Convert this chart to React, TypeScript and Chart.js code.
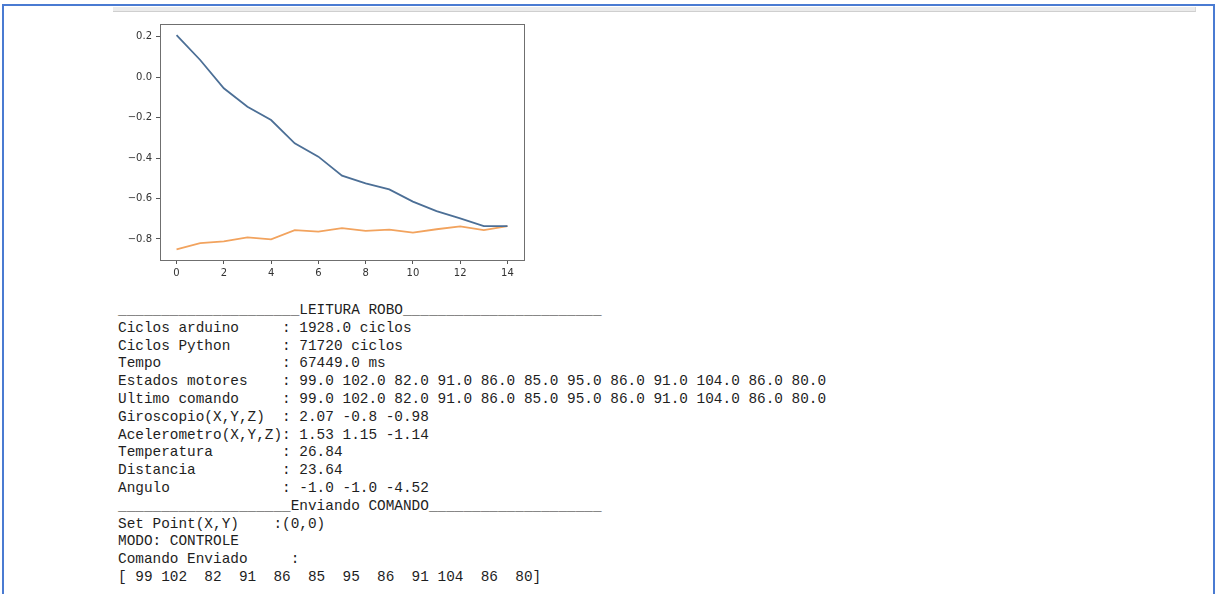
import React, { useEffect, useRef } from "react";
import { Chart, registerables } from "chart.js";

Chart.register(...registerables);

// ---- chart data ----
const xValues = [0, 1, 2, 3, 4, 5, 6, 7, 8, 9, 10, 11, 12, 13, 14];
const blueSeries = [0.208, 0.085, -0.055, -0.146, -0.212, -0.327, -0.393, -0.487, -0.525, -0.555, -0.615, -0.662, -0.698, -0.736, -0.736];
const orangeSeries = [-0.851, -0.821, -0.812, -0.792, -0.802, -0.756, -0.764, -0.746, -0.76, -0.754, -0.769, -0.752, -0.738, -0.756, -0.736];
const yRange = [-0.904, 0.263];
const xRange = [-0.7, 14.7];

// ---- text output ----
const outputLines = [
  "_____________________LEITURA ROBO_______________________",
  "Ciclos arduino     : 1928.0 ciclos",
  "Ciclos Python      : 71720 ciclos",
  "Tempo              : 67449.0 ms",
  "Estados motores    : 99.0 102.0 82.0 91.0 86.0 85.0 95.0 86.0 91.0 104.0 86.0 80.0",
  "Ultimo comando     : 99.0 102.0 82.0 91.0 86.0 85.0 95.0 86.0 91.0 104.0 86.0 80.0",
  "Giroscopio(X,Y,Z)  : 2.07 -0.8 -0.98",
  "Acelerometro(X,Y,Z): 1.53 1.15 -1.14",
  "Temperatura        : 26.84",
  "Distancia          : 23.64",
  "Angulo             : -1.0 -1.0 -4.52",
  "____________________Enviando COMANDO____________________",
  "Set Point(X,Y)    :(0,0)",
  "MODO: CONTROLE",
  "Comando Enviado     :",
  "[ 99 102  82  91  86  85  95  86  91 104  86  80]",
];

const framePlugin = {
  id: "frameBox",
  afterDraw(chart: any) {
    const { ctx, chartArea } = chart;
    ctx.save();
    ctx.strokeStyle = "#6f6f6f";
    ctx.lineWidth = 1;
    ctx.strokeRect(
      Math.round(chartArea.left) + 0.5,
      Math.round(chartArea.top) + 0.5,
      Math.round(chartArea.right - chartArea.left),
      Math.round(chartArea.bottom - chartArea.top)
    );
    ctx.restore();
  },
};

function fmtY(v: number) {
  const r = Math.round(v * 10) / 10;
  if (r === 0) return "0.0";
  return (r < 0 ? "\u2212" : "") + Math.abs(r).toFixed(1);
}

function LineChart() {
  const ref = useRef<HTMLCanvasElement | null>(null);
  useEffect(() => {
    if (!ref.current) return;
    const chart = new Chart(ref.current, {
      type: "line",
      data: {
        datasets: [
          {
            data: xValues.map((x, i) => ({ x, y: blueSeries[i] })),
            borderColor: "#4c6f96",
            borderWidth: 1.8,
            pointRadius: 0,
            tension: 0,
          },
          {
            data: xValues.map((x, i) => ({ x, y: orangeSeries[i] })),
            borderColor: "#f2a35e",
            borderWidth: 1.8,
            pointRadius: 0,
            tension: 0,
          },
        ],
      },
      options: {
        animation: false,
        responsive: false,
        devicePixelRatio: 1,
        layout: { padding: { top: 10, right: 16, left: 0, bottom: 0 } },
        plugins: { legend: { display: false }, tooltip: { enabled: false } },
        scales: {
          x: {
            type: "linear",
            min: xRange[0],
            max: xRange[1],
            afterFit: (s: any) => { s.height = 34; },
            border: { display: false },
            grid: { drawOnChartArea: false, drawTicks: true, tickLength: 4, color: "#555" },
            ticks: {
              stepSize: 2,
              includeBounds: false,
              padding: 3,
              color: "#333",
              font: { family: "DejaVu Sans", size: 10 },
              maxRotation: 0,
              callback: (v: any) => String(Math.round(Number(v))),
            },
          },
          y: {
            type: "linear",
            min: yRange[0],
            max: yRange[1],
            afterFit: (s: any) => { s.width = 60; },
            border: { display: false },
            grid: { drawOnChartArea: false, drawTicks: true, tickLength: 4, color: "#555" },
            ticks: {
              stepSize: 0.2,
              includeBounds: false,
              padding: 4,
              color: "#333",
              font: { family: "DejaVu Sans", size: 10 },
              callback: (v: any) => fmtY(Number(v)),
            },
          },
        },
      },
      plugins: [framePlugin],
    });
    return () => chart.destroy();
  }, []);
  return (
    <canvas
      ref={ref}
      width={440}
      height={280}
      style={{ position: "absolute", left: 100, top: 14, width: 440, height: 280 }}
    />
  );
}

export default function App() {
  return (
    <div style={{ position: "absolute", left: 0, top: 0, width: 1219, height: 594, background: "#fff", overflow: "hidden" }}>
      <div
        style={{
          position: "absolute",
          left: 2,
          top: 4,
          width: 1213,
          height: 620,
          border: "2px solid #4a7bd2",
          boxSizing: "border-box",
        }}
      />
      <div
        style={{
          position: "absolute",
          left: 113,
          top: 7,
          width: 1082,
          height: 4,
          background: "#ebebeb",
          borderBottom: "1px solid #cfcfcf",
          borderRight: "1px solid #d8d8d8",
        }}
      />
      <LineChart />
      <pre
        style={{
          position: "absolute",
          left: 118,
          top: 302,
          margin: 0,
          fontFamily: "'Liberation Mono', monospace",
          fontSize: "14.4px",
          lineHeight: "17.8px",
          color: "#1e1e1e",
          whiteSpace: "pre",
        }}
      >
        {outputLines.join("\n")}
      </pre>
    </div>
  );
}
